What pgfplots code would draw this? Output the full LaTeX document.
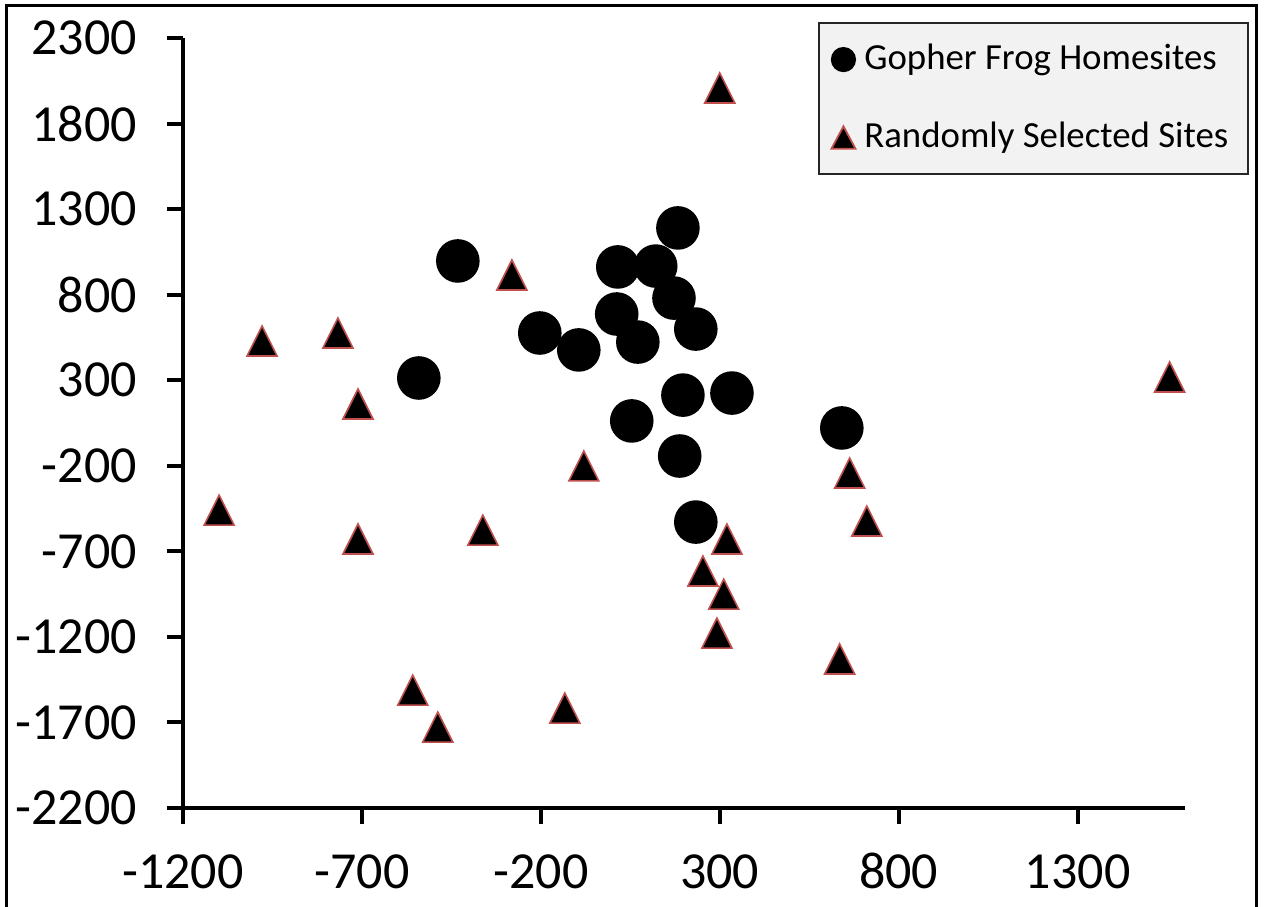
\documentclass[border=0pt]{standalone}
\usepackage{pgfplots}
\pgfplotsset{compat=1.18}
\usepackage{fontspec}
\setmainfont{Carlito}
\definecolor{tribord}{HTML}{C0504D}
\pgfdeclareplotmark{xltri}{%
 \pgfpathmoveto{\pgfqpoint{0pt}{\pgfplotmarksize}}%
 \pgfpathlineto{\pgfqpoint{\pgfplotmarksize}{-\pgfplotmarksize}}%
 \pgfpathlineto{\pgfqpoint{-\pgfplotmarksize}{-\pgfplotmarksize}}%
 \pgfpathclose\pgfusepathqfillstroke}
\begin{document}
\begin{tikzpicture}
\begin{axis}[
 at={(0,0)}, anchor=south west,
 scale only axis, width=250.5pt, height=192.5pt,
 xmin=-1200, xmax=1600, ymin=-2200, ymax=2300,
 axis x line*=bottom, axis y line*=left,
 axis line style={line width=1pt, -},
 xtick={-1200,-700,-200,300,800,1300},
 xticklabels={-1200,-700,-200,300,800,1300},
 ytick={-2200,-1700,-1200,-700,-200,300,800,1300,1800,2300},
 yticklabels={-2200,-1700,-1200,-700,-200,300,800,1300,1800,2300},
 tick align=outside, major tick length=4pt,
 tick style={line width=1pt, black},
 every tick label/.append style={font=\fontsize{13}{15}\selectfont},
 xticklabel style={text height=9pt, text depth=0pt, yshift=-3.5pt},
 yticklabel style={xshift=-4pt},
 legend style={at={(0.6337,1.0208)}, anchor=north west, fill=black!5, draw=black!85, line width=0.5pt,
   font=\fontsize{9.2}{11}\selectfont, row sep=7.6pt, inner xsep=2.9pt, inner ysep=3.2pt},
 legend cell align=left,
 clip=false,
]
\addplot[only marks, mark=*, mark size=5.25pt, black,
 legend image code/.code={\fill[black] (0,0) circle (2.9pt);}]
coordinates {
(-432,997) (-541,313) (-203,576) (-94,477) (15,962) (12,687) (71,523)
(121,967) (183,1190) (172,780) (233,599) (197,213) (334,225) (54,62)
(188,-143) (233,-529) (641,21)
};
\addlegendentry{Gopher Frog Homesites}
\addplot[only marks, mark=xltri, mark size=3.75pt,
 mark options={fill=black, draw=tribord, line width=0.4pt},
 legend image code/.code={\draw[fill=black, draw=tribord, line width=0.45pt] (-3pt,-2.8pt) -- (3pt,-2.8pt) -- (0,2.8pt) -- cycle;}]
coordinates {
(300,2008) (1557,319) (-979,529) (-767,576) (-711,161) (-281,915)
(-1099,-459) (-711,-628) (-362,-576) (-80,-201) (663,-242) (711,-523)
(320,-628) (253,-815) (311,-950) (292,-1178) (635,-1329) (-558,-1511)
(-488,-1727) (-133,-1616)
};
\addlegendentry{Randomly Selected Sites}
\end{axis}
\draw[line width=0.75pt] (-44pt,-40pt) -- (-44pt,200.5pt) -- (268.25pt,200.5pt) -- (268.25pt,-40pt);
\pgfresetboundingbox
\useasboundingbox (-45.75pt,-24.75pt) rectangle (270.25pt,202pt);
\end{tikzpicture}
\end{document}
